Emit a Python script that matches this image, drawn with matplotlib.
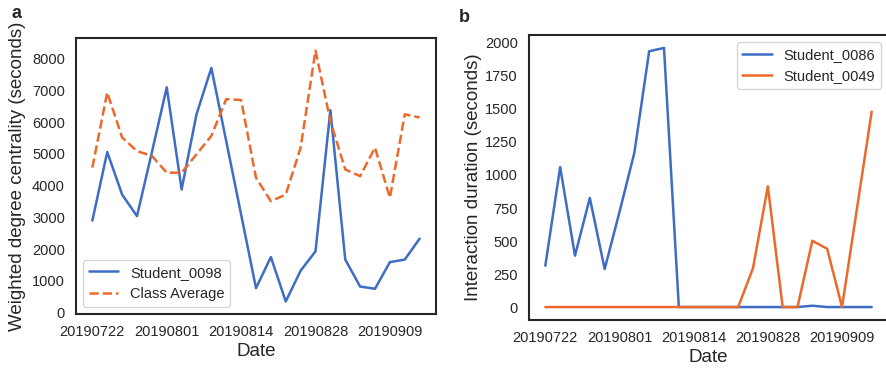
import matplotlib.pyplot as plt
import seaborn as sns

# fechas de cada sesion (solo se etiquetan algunas)
fechas = ['20190722', '20190724', '20190726', '20190729', '20190730',
          '20190801', '20190805', '20190807', '20190809', '20190812',
          '20190814', '20190816', '20190819', '20190821', '20190826',
          '20190828', '20190830', '20190902', '20190904', '20190906',
          '20190909', '20190911', '20190913']
ticks_fechas = [0, 5, 10, 15, 20]

# panel a: centralidad ponderada
student_0098 = [2900, 5060, 3720, 3040, 5050, 7100, 3880, 6250, 7710, 5400,
                3090, 770, 1750, 350, 1320, 1930, 6380, 1670, 820, 750,
                1590, 1670, 2330]
class_average = [4570, 6940, 5520, 5090, 4940, 4410, 4410, 4990, 5570, 6730,
                 6700, 4250, 3510, 3720, 5200, 8260, 6040, 4510, 4300, 5200,
                 3620, 6250, 6150]

# panel b: duracion de interaccion
student_0086 = [313, 1060, 389, 826, 288, 720, 1167, 1937, 1962, 0,
                0, 0, 0, 0, 0, 0, 0, 0, 10, 0,
                0, 0, 0]
student_0049 = [0, 0, 0, 0, 0, 0, 0, 0, 0, 0,
                0, 0, 0, 0, 295, 914, 0, 0, 502, 441,
                0, 740, 1480]

azul = '#3d6dc4'
naranja = '#ea6a2c'

sns.set_style('white')
plt.rcParams['font.family'] = ['Liberation Sans', 'DejaVu Sans']

fig = plt.figure(figsize=(8.87, 3.68), dpi=100)
ax1 = fig.add_axes([76 / 887, 1 - 314 / 368, 360 / 887, 276 / 368])
ax2 = fig.add_axes([529 / 887, 1 - 320 / 368, 359 / 887, 285 / 368])

x = list(range(len(fechas)))

ax1.plot(x, student_0098, color=azul, lw=1.8, label='Student_0098')
ax1.plot(x, class_average, color=naranja, lw=1.8, ls='--', label='Class Average')
ax1.set_ylabel('Weighted degree centrality (seconds)', fontsize=13.5, labelpad=4)
ax1.set_yticks(range(0, 8001, 1000))
ax1.legend(loc='lower left', fontsize=10.5, frameon=True, edgecolor='0.8')

ax2.plot(x, student_0086, color=azul, lw=1.8, label='Student_0086')
ax2.plot(x, student_0049, color=naranja, lw=1.8, label='Student_0049')
ax2.set_ylabel('Interaction duration (seconds)', fontsize=13.5, labelpad=2)
ax2.set_yticks(range(0, 2001, 250))
ax2.legend(loc='upper right', fontsize=10.5, frameon=True, edgecolor='0.8')

for ax in (ax1, ax2):
    ax.set_xticks(ticks_fechas)
    ax.set_xticklabels([fechas[i] for i in ticks_fechas])
    ax.set_xlabel('Date', fontsize=13.5, labelpad=3)
    ax.tick_params(labelsize=10.5, length=0, pad=8)
    for s in ax.spines.values():
        s.set_color('0.15')
        s.set_linewidth(1.5)

fig.text(12 / 887, 1 - 13 / 368, 'a', fontsize=13, fontweight='bold', va='center')
fig.text(459 / 887, 1 - 18 / 368, 'b', fontsize=13, fontweight='bold', va='center')

fig.savefig('out.png', dpi=100)
